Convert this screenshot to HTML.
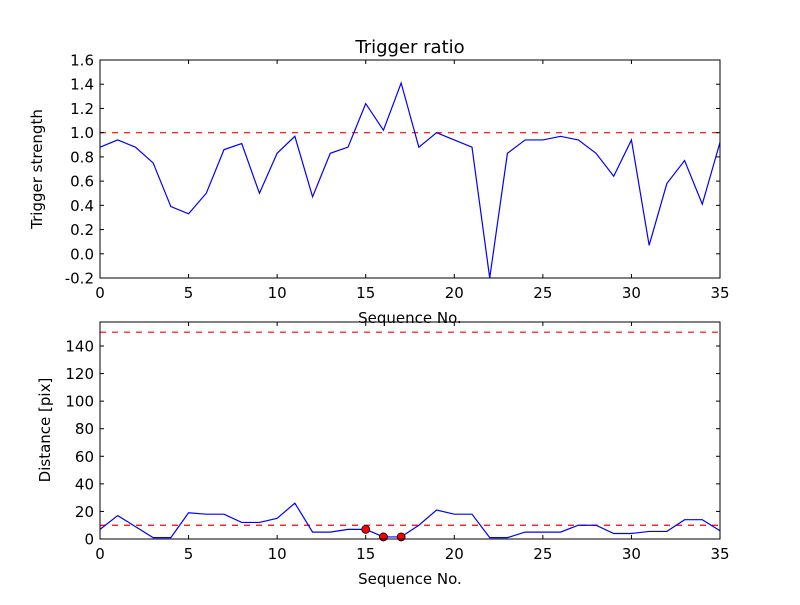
<!DOCTYPE html>
<html><head><meta charset="utf-8"><style>
body{margin:0;background:#fff}
svg{font-family:"DejaVu Sans","Liberation Sans",sans-serif}
</style></head><body>
<svg id="chart" width="800" height="600" viewBox="0 0 800 600" xmlns="http://www.w3.org/2000/svg">
<rect width="800" height="600" fill="#fff"/>
<g id="g"></g>
</svg>
<script>
const seq = Array.from({length:36},(_,i)=>i);
const strength = [0.88,0.94,0.88,0.75,0.39,0.33,0.50,0.86,0.91,0.50,0.83,0.97,0.47,0.83,0.88,1.24,1.02,1.41,0.88,1.00,0.94,0.88,-0.2,0.83,0.94,0.94,0.97,0.94,0.83,0.64,0.94,0.07,0.58,0.77,0.41,0.92];
const distance = [7,17,9,1,1,19,18,18,12,12,15,26,5,5,7,7,1.5,1.5,10,21,18,18,1,1,5,5,5,10,10,4,4,5.5,5.5,14,14,6];
const markerIdx = [15,16,17];
const strengthThreshold = 1.0;
const distanceThresholds = [10,150];
const xTicks = [0,5,10,15,20,25,30,35];
const yTicksTop = [-0.2,0,0.2,0.4,0.6,0.8,1.0,1.2,1.4,1.6];
const yTicksBot = [0,20,40,60,80,100,120,140];

const NS="http://www.w3.org/2000/svg";
const g=document.getElementById('g');
function el(tag,attrs,parent){const e=document.createElementNS(NS,tag);for(const k in attrs)e.setAttribute(k,attrs[k]);(parent||g).appendChild(e);return e;}
const L=100,R=720;
const xs=v=>L+(v-0)/(35-0)*(R-L);
const axTop={t:60,b:278,min:-0.2,max:1.6};
const axBot={t:322,b:539,min:0,max:157.4};
const ys=(ax,v)=>ax.b-(v-ax.min)/(ax.max-ax.min)*(ax.b-ax.t);

function axes(ax,yt,fmt,name){
  const grp=el('g',{});
  
  
  xTicks.forEach(v=>{
    const x=xs(v);
    el('line',{x1:x,x2:x,y1:ax.b,y2:ax.b-4,stroke:'#000'},grp);
    el('line',{x1:x,x2:x,y1:ax.t,y2:ax.t+4,stroke:'#000'},grp);
    const t=el('text',{x:x,y:ax.b+20,'text-anchor':'middle','font-size':'15'},grp);
    t.textContent=v;
    
    
  });
  yt.forEach(v=>{
    const y=ys(ax,v);
    el('line',{x1:L,x2:L+4,y1:y,y2:y,stroke:'#000'},grp);
    el('line',{x1:R,x2:R-4,y1:y,y2:y,stroke:'#000'},grp);
    const t=el('text',{x:L-6,y:y+5.5,'text-anchor':'end','font-size':'15'},grp);
    t.textContent=fmt(v);
    
    
  });
  return grp;
}
function frame(ax,name){
  const r=el('rect',{x:L,y:ax.t,width:R-L,height:ax.b-ax.t,fill:'none',stroke:'#000','stroke-width':1});
  
  
}
function line(ax,data,name){
  const p=el('polyline',{points:data.map((v,i)=>xs(seq[i])+','+ys(ax,v)).join(' '),fill:'none',stroke:'#0000ff','stroke-width':1.2});
  
  
}
function hline(ax,v,name){
  const l=el('line',{x1:L,x2:R,y1:ys(ax,v),y2:ys(ax,v),stroke:'#ff0000','stroke-width':1.2,'stroke-dasharray':'6,6'});
  
  
}
function text(x,y,s,size,name,rot){
  const t=el('text',{x:x,y:y,'text-anchor':'middle','font-size':size});
  if(rot)t.setAttribute('transform','rotate(-90 '+x+' '+y+')');
  t.textContent=s;
  
  
}
// top plot
hline(axTop,strengthThreshold,'strength-threshold-line');
line(axTop,strength,'strength-line');
axes(axTop,yTicksTop,v=>v.toFixed(1),'top-axes');
frame(axTop,'top-plot-frame');
text(410,53,'Trigger ratio',18,'chart-title');
text(410,323,'Sequence No.',15,'top-x-axis-title');
text(42,169,'Trigger strength',15,'top-y-axis-title',true);
// bottom plot
distanceThresholds.forEach((v,i)=>hline(axBot,v,'distance-threshold-line-'+i));
line(axBot,distance,'distance-line');
markerIdx.forEach(i=>{
  const c=el('circle',{cx:xs(seq[i]),cy:ys(axBot,distance[i]),r:4,fill:'#ff0000',stroke:'#000','stroke-width':0.8});
  
  
});
axes(axBot,yTicksBot,v=>String(v),'bottom-axes');
frame(axBot,'bottom-plot-frame');
text(410,584,'Sequence No.',15,'bottom-x-axis-title');
text(50,430,'Distance [pix]',15,'bottom-y-axis-title',true);
</script>
</body></html>
